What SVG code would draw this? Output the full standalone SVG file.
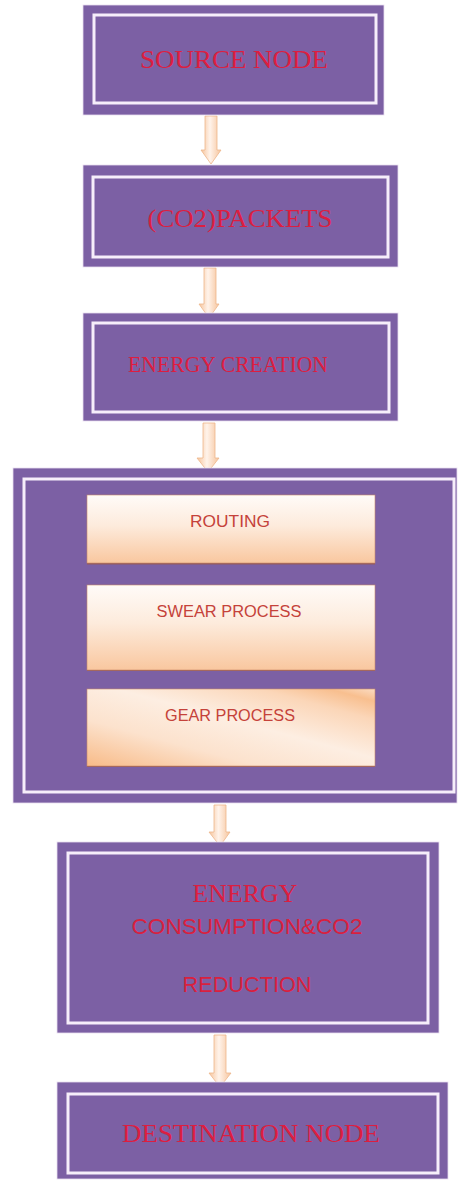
<svg xmlns="http://www.w3.org/2000/svg" width="458" height="1181" viewBox="0 0 458 1181">
<style>
.outer{fill:#7c60a4;stroke:#e9dff0;stroke-width:0.8}
.inner{fill:#7c60a4;stroke:#f6eefa;stroke-width:3}
.serif{font-family:"Liberation Serif","Times New Roman",serif;fill:#dc1e40;text-anchor:middle}
.sans{font-family:"Liberation Sans",Arial,sans-serif;fill:#d9203e;text-anchor:middle}
.sub{fill:url(#subg);stroke:#c98a6a;stroke-width:0.6}
.subshadow{fill:#9c5a48;opacity:0.8}
.subt{font-family:"Liberation Sans",Arial,sans-serif;fill:#c5423a;text-anchor:middle;font-size:16px}
.arrow{fill:url(#arrg);stroke:#eeb68c;stroke-width:0.8}
</style>
<defs>
<linearGradient id="subg" x1="0" y1="0" x2="0" y2="1">
<stop offset="0" stop-color="#fffbf8"/>
<stop offset="0.45" stop-color="#fdebdc"/>
<stop offset="1" stop-color="#f9c79f"/>
</linearGradient>
<linearGradient id="gearg" x1="0" y1="1" x2="1" y2="0">
<stop offset="0" stop-color="#f8bb88"/>
<stop offset="0.3" stop-color="#fce2cd"/>
<stop offset="0.55" stop-color="#fdeee2"/>
<stop offset="0.8" stop-color="#fbd6b8"/>
<stop offset="0.92" stop-color="#f8bf8f"/>
<stop offset="1" stop-color="#fbdcc3"/>
</linearGradient>
<linearGradient id="arrg" x1="0" y1="0" x2="1" y2="0">
<stop offset="0" stop-color="#f6c49c"/>
<stop offset="0.45" stop-color="#fff3ea"/>
<stop offset="1" stop-color="#f6c49c"/>
</linearGradient>
</defs>

<g id="connectors">
<polygon class="arrow" points="205,116 217,116 217,150 221,150 211,164 201,150 205,150"/>
<polygon class="arrow" points="204,268 216,268 216,304 219,304 209,318 199,304 204,304"/>
<polygon class="arrow" points="203,423 215,423 215,458 219,458 208,472 197,458 203,458"/>
<polygon class="arrow" points="214,805 226,805 226,832 230,832 220,846 209,832 214,832"/>
<polygon class="arrow" points="214,1035 226,1035 226,1073 231,1073 220,1087 209,1073 214,1073"/>
</g>

<g id="source-node">
<rect class="outer" x="83" y="5" width="301" height="110"/>
<rect class="inner" x="94" y="15" width="282" height="88"/>
<text class="serif" x="234" y="68" font-size="25" textLength="188" lengthAdjust="spacingAndGlyphs">SOURCE  NODE</text>
</g>

<g id="co2-packets">
<rect class="outer" x="83" y="165" width="315" height="102"/>
<rect class="inner" x="93" y="177" width="295" height="80"/>
<text class="serif" x="240" y="227" font-size="25" textLength="185" lengthAdjust="spacingAndGlyphs">(CO2)PACKETS</text>
</g>

<g id="energy-creation">
<rect class="outer" x="83" y="313" width="315" height="108"/>
<rect class="inner" x="93" y="323" width="296" height="89"/>
<text class="serif" x="228" y="372" font-size="24" textLength="200" lengthAdjust="spacingAndGlyphs">ENERGY CREATION</text>
</g>

<g id="process-group">
<rect class="outer" x="13" y="468" width="444" height="335"/>
<rect class="inner" x="24" y="479" width="430" height="313"/>
<g id="routing">
<rect class="subshadow" x="87" y="496" width="288" height="68.5"/>
<rect class="sub" x="87" y="495" width="288" height="68"/>
<text class="subt" x="230" y="527" textLength="80" lengthAdjust="spacingAndGlyphs">ROUTING</text>
</g>
<g id="swear-process">
<rect class="subshadow" x="87" y="586" width="288" height="85"/>
<rect class="sub" x="87" y="585" width="288" height="85"/>
<text class="subt" x="229" y="617" textLength="145" lengthAdjust="spacingAndGlyphs">SWEAR PROCESS</text>
</g>
<g id="gear-process">
<rect class="subshadow" x="87" y="690" width="288" height="77"/>
<rect x="87" y="689" width="288" height="77" fill="url(#gearg)" stroke="#c98a6a" stroke-width="0.6"/>
<text class="subt" x="230" y="721" textLength="130" lengthAdjust="spacingAndGlyphs">GEAR PROCESS</text>
</g>
</g>

<g id="energy-consumption">
<rect class="outer" x="57" y="842" width="382" height="191"/>
<rect class="inner" x="68" y="853" width="360" height="170"/>
<text class="serif" x="245" y="902" font-size="25" textLength="105" lengthAdjust="spacingAndGlyphs">ENERGY</text>
<text class="sans" x="247" y="934" font-size="22" textLength="231" lengthAdjust="spacingAndGlyphs">CONSUMPTION&amp;CO2</text>
<text class="sans" x="247" y="992" font-size="22" textLength="129" lengthAdjust="spacingAndGlyphs">REDUCTION</text>
</g>

<g id="destination-node">
<rect class="outer" x="57" y="1082" width="391" height="97"/>
<rect class="inner" x="68" y="1094" width="370" height="79"/>
<text class="serif" x="251" y="1142" font-size="26" textLength="258" lengthAdjust="spacingAndGlyphs">DESTINATION NODE</text>
</g>
</svg>
